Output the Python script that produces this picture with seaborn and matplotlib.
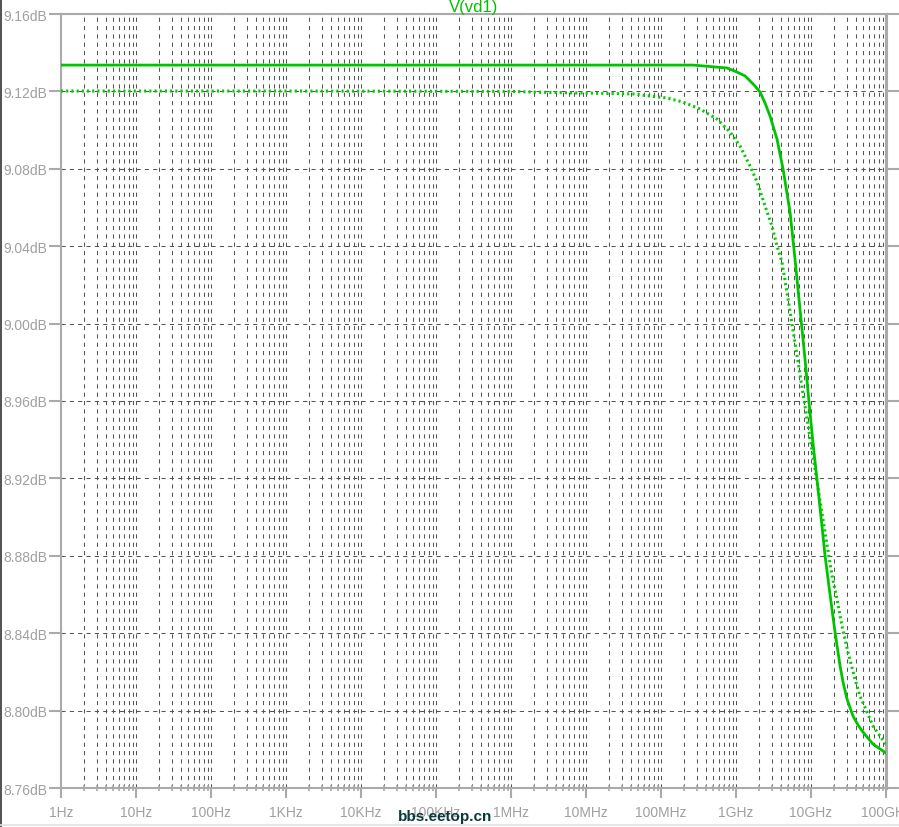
import matplotlib
matplotlib.use('Agg')

import numpy as np
import pandas as pd
import matplotlib.pyplot as plt
import seaborn as sns
from matplotlib import font_manager, ticker
from matplotlib.lines import Line2D


# DATA

solid_freq = [1, 1e3, 1e6, 2.7e8, 7.6e8, 1.03e9, 1.32e9, 1.54e9, 1.79e9, 2.09e9,
              2.44e9, 2.84e9, 3.52e9, 4.24e9, 5.25e9, 6.12e9, 7.13e9, 8.32e9,
              9.4e9, 1.06e10, 1.2e10, 1.4e10, 1.54e10, 1.79e10, 2.09e10, 2.44e10,
              2.67e10, 3.02e10, 3.63e10, 4.23e10, 4.93e10, 5.75e10, 6.71e10,
              8.3e10, 1e11]
solid_db = [9.1336, 9.1336, 9.1336, 9.1336, 9.1321, 9.1300, 9.1280, 9.1254, 9.1228,
            9.1197, 9.1140, 9.1073, 9.0954, 9.0799, 9.0577, 9.0334, 9.0075, 8.9817,
            8.9595, 8.9388, 8.9197, 8.8954, 8.8800, 8.8603, 8.8406, 8.8231, 8.8148,
            8.8060, 8.7972, 8.7926, 8.7889, 8.7858, 8.7827, 8.7802, 8.7781]

dotted_freq = [1, 1e3, 1e6, 2.1e6, 4.2e7, 7.1e7, 1.2e8, 1.96e8, 3.31e8, 5.58e8,
               8.32e8, 1.13e9, 1.54e9, 1.91e9, 2.44e9, 3.02e9, 3.52e9, 4.1e9,
               4.79e9, 5.58e9, 6.12e9, 7.13e9, 8.07e9, 9.12e9, 1.03e10, 1.13e10,
               1.32e10, 1.63e10, 1.91e10, 2.22e10, 2.59e10, 3.11e10, 3.86e10,
               4.5e10, 5.58e10, 6.71e10, 8.32e10, 1e11]
dotted_db = [9.1202, 9.1202, 9.1200, 9.1196, 9.1187, 9.1176, 9.1166, 9.1145, 9.1109,
             9.1057, 9.0990, 9.0918, 9.0814, 9.0732, 9.0608, 9.0504, 9.0401, 9.0318,
             9.0160, 8.9998, 8.9900, 8.9738, 8.9606, 8.9476, 8.9346, 8.9248, 8.9085,
             8.8860, 8.8696, 8.8577, 8.8437, 8.8303, 8.8163, 8.8075, 8.7993, 8.7920,
             8.7869, 8.7827]

x_ticks = [1, 1e1, 1e2, 1e3, 1e4, 1e5, 1e6, 1e7, 1e8, 1e9, 1e10, 1e11]
x_labels = ['1Hz', '10Hz', '100Hz', '1KHz', '10KHz', '100KHz',
            '1MHz', '10MHz', '100MHz', '1GHz', '10GHz', '100GHz']
y_ticks = [8.76, 8.80, 8.84, 8.88, 8.92, 8.96, 9.00, 9.04, 9.08, 9.12, 9.16]
y_labels = ['8.76dB', '8.80dB', '8.84dB', '8.88dB', '8.92dB', '8.96dB',
            '9.00dB', '9.04dB', '9.08dB', '9.12dB', '9.16dB']
title = 'V(vd1)'
watermark = 'bbs.eetop.cn'


# STYLE

sns.set_theme(style='white')

names = {f.name for f in font_manager.fontManager.ttflist}
if 'Liberation Sans Narrow' in names:
    plt.rcParams['font.family'] = ['Liberation Sans Narrow', 'DejaVu Sans']
    tick_size, wm_size = 12.5, 13.5
else:
    plt.rcParams['font.family'] = ['Liberation Sans', 'DejaVu Sans']
    tick_size, wm_size = 10, 11

frame_gray = '#aaaaaa'
label_gray = '#a0a0a0'
grid_gray = '#555555'
green = '#00c400'


# PLOT

solid = pd.DataFrame({'freq': solid_freq, 'db': solid_db})
dotted = pd.DataFrame({'freq': dotted_freq, 'db': dotted_db})

fig = plt.figure(figsize=(8.99, 8.28), dpi=100)
ax = fig.add_axes([61 / 899, 39 / 828, 825 / 899, 774 / 828])
ax.set_xscale('log')

sns.lineplot(data=dotted, x='freq', y='db', ax=ax, color='#00cc00', lw=2.2,
             linestyle=(0, (0.7, 1.0)), zorder=3)
sns.lineplot(data=solid, x='freq', y='db', ax=ax, color=green, lw=2.0, zorder=4)

ax.set_xlim(1, 1e11)
ax.set_ylim(8.76, 9.16)
ax.set_xlabel('')
ax.set_ylabel('')

ax.xaxis.set_major_locator(ticker.FixedLocator(x_ticks))
ax.xaxis.set_major_formatter(ticker.FixedFormatter(x_labels))
ax.xaxis.set_minor_locator(ticker.LogLocator(base=10, subs=np.arange(2, 10), numticks=100))
ax.xaxis.set_minor_formatter(ticker.NullFormatter())
ax.yaxis.set_major_locator(ticker.FixedLocator(y_ticks))
ax.yaxis.set_major_formatter(ticker.FixedFormatter(y_labels))
ax.yaxis.set_minor_locator(ticker.NullLocator())

ax.grid(True, which='major', color=grid_gray, lw=0.75, ls=(0, (4, 4)))
ax.grid(True, which='minor', axis='x', color=grid_gray, lw=0.75, ls=(0, (4, 4)))

for side in ['left', 'bottom', 'top']:
    ax.spines[side].set_color(frame_gray)
    ax.spines[side].set_linewidth(1.5)
ax.spines['right'].set_color(frame_gray)
ax.spines['right'].set_linewidth(2.2)

ax.tick_params(axis='x', which='major', bottom=True, top=False, direction='out',
               length=7, width=1.5, color=frame_gray, labelcolor=label_gray,
               labelsize=tick_size, pad=5)
ax.tick_params(axis='x', which='minor', bottom=True, top=False, direction='inout',
               length=4, width=1.2, color=frame_gray)
ax.tick_params(axis='y', which='major', left=True, right=True, direction='out',
               length=9, width=1.5, color=frame_gray, labelcolor=label_gray,
               labelsize=tick_size, pad=1)

ax.set_title(title, color='#00c000', fontsize=12, pad=2)

fig.text(398 / 899, 1 - 821 / 828, watermark, fontsize=wm_size,
         fontweight='bold', color='#0b3a3a', va='baseline', ha='left')

# window border bits
fig.add_artist(Line2D([0.001, 0.001], [0, 1], color='#333333', lw=1.2))
fig.add_artist(Line2D([0, 1], [2.5 / 828, 2.5 / 828], color='#dde3e3', lw=1.2))

fig.savefig('out.png', dpi=100)
